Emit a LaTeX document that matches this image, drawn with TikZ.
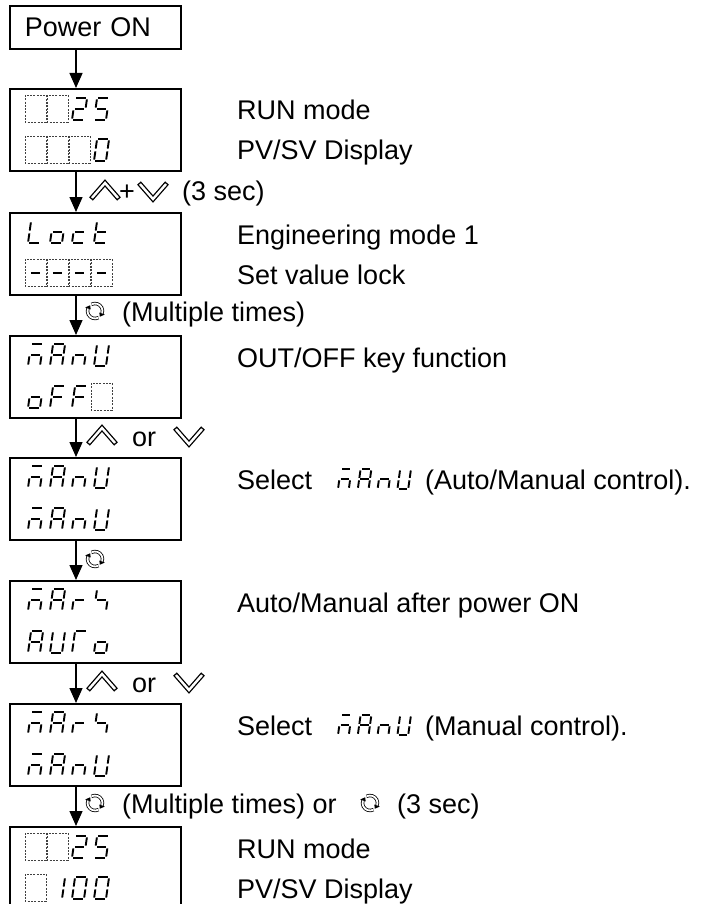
\documentclass[tikz,border=0pt]{standalone}
\usepackage{fontspec}
\setmainfont{Liberation Sans}
\usetikzlibrary{arrows.meta}
\tikzset{
  box/.style={draw, line width=1.8pt, minimum width=171pt, minimum height=82pt, inner sep=0pt, anchor=north west},
  flow/.style={line width=1.3pt, -{Triangle[width=13pt,length=15pt]}},
  txt/.style={anchor=base west, inner sep=0pt, font=\fontsize{27}{32}\selectfont},
  seg/.style={line width=1.9pt},
  cellbox/.style={draw=black!75, line width=0.55pt, dash pattern=on 2pt off 1.3pt},
  upkey/.pic={
    \draw[line width=5pt] (-14,8)--(0,-8)--(14,8);
    \draw[white, line width=2.4pt, shorten <=1.4pt, shorten >=1.4pt] (-14,8)--(0,-8)--(14,8);
  },
  downkey/.pic={
    \draw[line width=5pt] (-14,-8)--(0,8)--(14,-8);
    \draw[white, line width=2.4pt, shorten <=1.4pt, shorten >=1.4pt] (-14,-8)--(0,8)--(14,-8);
  },
  rotkey/.pic={
    \draw[line width=0.8pt, double=white, double distance=1.8pt] (62:7.5) arc (62:200:7.5);
    \draw[line width=0.8pt, double=white, double distance=1.8pt] (242:7.5) arc (242:380:7.5);
    \fill (200:4.6) -- (200:10.4) -- (230:7.5) -- cycle;
    \fill (20:4.6) -- (20:10.4) -- (50:7.5) -- cycle;
  },
}
\pgfkeys{/sg/.cd,
  a/.code={\draw[seg] (1.4,22)--(10.6,22);},
  b/.code={\draw[seg] (12,20.6)--(12,12.4);},
  c/.code={\draw[seg] (12,9.6)--(12,1.4);},
  d/.code={\draw[seg] (1.4,0)--(10.6,0);},
  e/.code={\draw[seg] (0,1.4)--(0,9.6);},
  f/.code={\draw[seg] (0,12.4)--(0,20.6);},
  g/.code={\draw[seg] (1.4,11)--(10.6,11);},
}
\newcommand{\sseg}[4]{\begin{scope}[shift={(#1,#2)},x=#3pt,y=#3pt,xslant=0.14]%
  \foreach \s in {#4}{\edef\sgtmp{\noexpand\pgfkeys{/sg/\s}}\sgtmp}\end{scope}}
\newcommand{\GL}[3]{\sseg{28+22*#1}{#2}{1}{#3}}
\newcommand{\DC}[2]{\draw[cellbox] ({25+22*#1},#2) rectangle ++(21,27);}
\begin{document}
\begin{tikzpicture}[x=1pt,y=-1pt]
\useasboundingbox (0,0) rectangle (703,904);
\coordinate (ax) at (76,0);
% boxes
\node[box, minimum height=43pt, text width=141pt, inner xsep=15pt, align=left, font=\fontsize{27}{32}\selectfont] (pw) at (9,5) {Power ON};
\node[box] (b1) at (9,88) {};
\node[box] (b2) at (9,212) {};
\node[box] (b3) at (9,335) {};
\node[box] (b4) at (9,457) {};
\node[box] (b5) at (9,580) {};
\node[box] (b6) at (9,703) {};
\node[box] (b7) at (9,826) {};
% connectors
\draw[flow] (pw.south -| ax) -- (b1.north -| ax);
\draw[flow] (b1.south -| ax) -- (b2.north -| ax);
\draw[flow] (b2.south -| ax) -- (b3.north -| ax);
\draw[flow] (b3.south -| ax) -- (b4.north -| ax);
\draw[flow] (b4.south -| ax) -- (b5.north -| ax);
\draw[flow] (b5.south -| ax) -- (b6.north -| ax);
\draw[flow] (b6.south -| ax) -- (b7.north -| ax);
% display 1
\DC{0}{95}\DC{1}{95}\GL{2}{120}{a,b,g,e,d}\GL{3}{120}{a,f,g,c,d}
\DC{0}{136}\DC{1}{136}\DC{2}{136}\GL{3}{161}{a,b,c,d,e,f}
% display 2
\GL{0}{243}{d,e,f}\GL{1}{243}{c,d,e,g}\GL{2}{243}{d,e,g}\GL{3}{243}{d,e,f,g}
\DC{0}{259}\DC{1}{259}\DC{2}{259}\DC{3}{259}
\GL{0}{284}{g}\GL{1}{284}{g}\GL{2}{284}{g}\GL{3}{284}{g}
% display 3
\GL{0}{366}{a,c,e,g}\GL{1}{366}{a,b,c,e,f,g}\GL{2}{366}{c,e,g}\GL{3}{366}{b,c,d,e,f}
\GL{0}{408}{c,d,e,g}\GL{1}{408}{a,e,f,g}\GL{2}{408}{a,e,f,g}\DC{3}{383}
% display 4
\GL{0}{488}{a,c,e,g}\GL{1}{488}{a,b,c,e,f,g}\GL{2}{488}{c,e,g}\GL{3}{488}{b,c,d,e,f}
\GL{0}{530}{a,c,e,g}\GL{1}{530}{a,b,c,e,f,g}\GL{2}{530}{c,e,g}\GL{3}{530}{b,c,d,e,f}
% display 5
\GL{0}{611}{a,c,e,g}\GL{1}{611}{a,b,c,e,f,g}\GL{2}{611}{e,g}\GL{3}{611}{f,g,c}
\GL{0}{653}{a,b,c,e,f,g}\GL{1}{653}{b,c,d,e,f}\GL{2}{653}{a,e,f}\GL{3}{653}{c,d,e,g}
% display 6
\GL{0}{734}{a,c,e,g}\GL{1}{734}{a,b,c,e,f,g}\GL{2}{734}{e,g}\GL{3}{734}{f,g,c}
\GL{0}{776}{a,c,e,g}\GL{1}{776}{a,b,c,e,f,g}\GL{2}{776}{c,e,g}\GL{3}{776}{b,c,d,e,f}
% display 7
\DC{0}{833}\DC{1}{833}\GL{2}{858}{a,b,g,e,d}\GL{3}{858}{a,f,g,c,d}
\DC{0}{874}\GL{1}{899}{b,c}\GL{2}{899}{a,b,c,d,e,f}\GL{3}{899}{a,b,c,d,e,f}
% right texts
\node[txt] (t1a) at (237,120) {RUN mode};
\node[txt] (t1b) at (237,160) {PV/SV Display};
\node[txt] (t2a) at (237,244) {Engineering mode 1};
\node[txt] (t2b) at (237,284) {Set value lock};
\node[txt] (t3a) at (237,367) {OUT/OFF key function};
\node[txt] (t4a) at (237,489) {Select};
\sseg{338}{489}{0.9}{a,c,e,g}\sseg{357.8}{489}{0.9}{a,b,c,e,f,g}\sseg{377.6}{489}{0.9}{c,e,g}\sseg{397.4}{489}{0.9}{b,c,d,e,f}
\node[txt] (t4b) at (425,489) {(Auto/Manual control).};
\node[txt] (t5a) at (237,612) {Auto/Manual after power ON};
\node[txt] (t6a) at (237,735) {Select};
\sseg{338}{735}{0.9}{a,c,e,g}\sseg{357.8}{735}{0.9}{a,b,c,e,f,g}\sseg{377.6}{735}{0.9}{c,e,g}\sseg{397.4}{735}{0.9}{b,c,d,e,f}
\node[txt] (t6b) at (425,735) {(Manual control).};
\node[txt] (t7a) at (237,858) {RUN mode};
\node[txt] (t7b) at (237,898) {PV/SV Display};
% arrow labels
\pic at (105,191) {upkey};
\node[txt] (p1) at (119,200.5) {+};
\pic at (153,191) {downkey};
\node[txt] (l1) at (182,200.5) {(3 sec)};
\pic at (95,311) {rotkey};
\node[txt] (l2) at (122,321) {(Multiple times)};
\pic at (102,436) {upkey};
\node[txt] (l3) at (132,446) {or};
\pic at (189,436) {downkey};
\pic at (95,559) {rotkey};
\pic at (102,682) {upkey};
\node[txt] (l5) at (132,692) {or};
\pic at (189,682) {downkey};
\pic at (95,803) {rotkey};
\node[txt] (l6) at (122,813.5) {(Multiple times) or};
\pic at (370,803) {rotkey};
\node[txt] (l6b) at (397,813.5) {(3 sec)};
\end{tikzpicture}
\end{document}
